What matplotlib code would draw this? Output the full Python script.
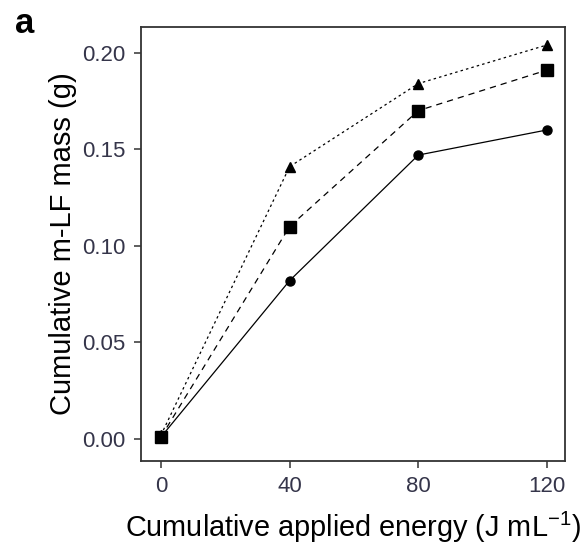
import numpy as np
import matplotlib.pyplot as plt

plt.rcParams['font.family'] = ['Liberation Sans', 'DejaVu Sans']

# data
energy = [0, 40, 80, 120]
mass_circle = [0.001, 0.082, 0.147, 0.160]
mass_square = [0.001, 0.110, 0.170, 0.191]
mass_triangle = [0.002, 0.141, 0.184, 0.204]

fig = plt.figure(figsize=(5.81, 5.47), dpi=100)
ax = fig.add_axes([141/581, 1 - 461/547, (565-141)/581, (461-27)/547])

ax.plot(energy, mass_circle, color='black', lw=0.9, ls='-',
        marker='o', ms=6.5, mfc='black', mec='black')
ax.plot(energy, mass_square, color='black', lw=0.9, ls=(0, (5, 4)),
        marker='s', ms=8, mfc='black', mec='black')
ax.plot(energy, mass_triangle, color='black', lw=0.9, ls=(0, (2, 2.5)),
        marker='^', ms=7.5, mfc='black', mec='black')

ax.set_xlim(-6.2, 125.6)
ax.set_ylim(-0.0114, 0.2133)
ax.set_xticks([0, 40, 80, 120])
ax.set_yticks([0.00, 0.05, 0.10, 0.15, 0.20])
ax.set_yticklabels(['0.00', '0.05', '0.10', '0.15', '0.20'])

for s in ax.spines.values():
    s.set_linewidth(1.3)
    s.set_color('#333333')
ax.tick_params(direction='out', length=5, width=1.1, color='#333333',
               labelsize=16, labelcolor='#35354a', pad=6)

ax.set_xlabel('Cumulative applied energy (J mL$^{\\mathregular{-1}}$)',
              fontsize=20.8, labelpad=9)
ax.set_ylabel('Cumulative m-LF mass (g)', fontsize=21, labelpad=4)

fig.text(15/581, 1 - 33/547, 'a', fontsize=25, fontweight='bold', va='baseline')

fig.savefig('out.png', dpi=100)
